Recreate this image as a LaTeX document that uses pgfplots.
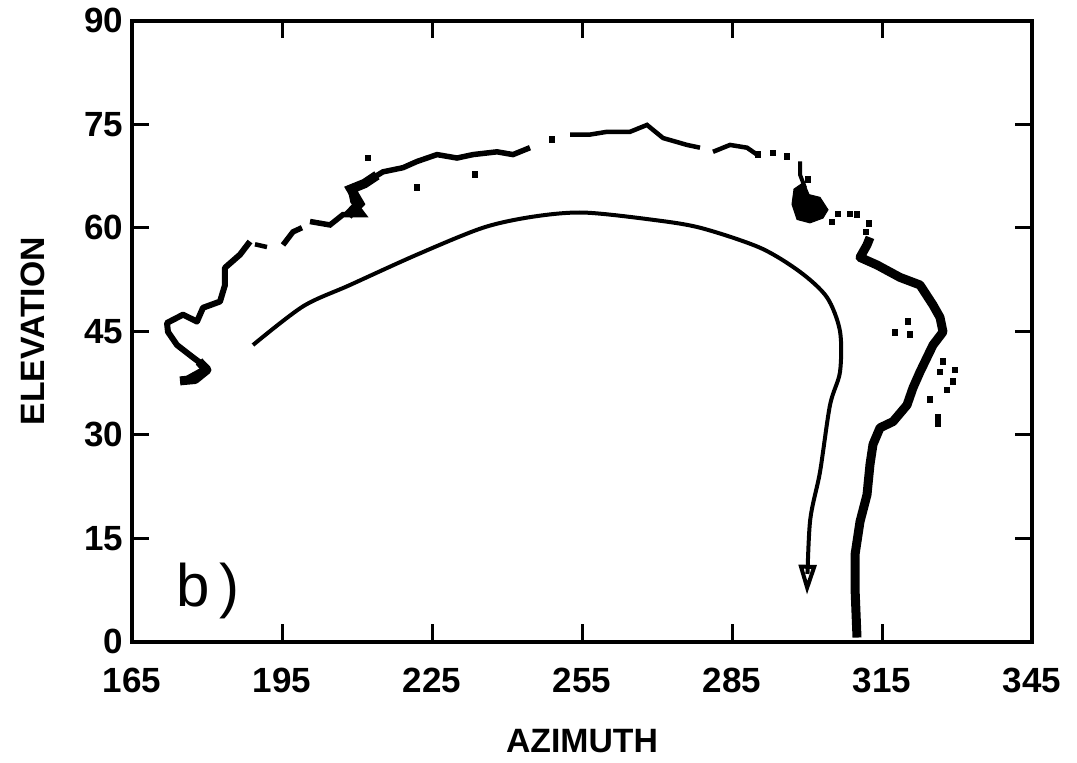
\documentclass[border=0pt]{standalone}
\usepackage{fontspec}
\setmainfont{Liberation Sans}
\usepackage{pgfplots}
\pgfplotsset{compat=1.18}
\usetikzlibrary{arrows.meta}
\begin{document}
\begin{tikzpicture}
\begin{axis}[
  scale only axis, width=360pt, height=248.4pt,
  xmin=165, xmax=345, ymin=0, ymax=90,
  xtick={165,195,...,345}, ytick={0,15,...,90},
  tick align=inside, major tick length=7pt,
  axis line style={line width=1.6pt},
  every tick/.style={line width=1.2pt, black},
  ticklabel style={font=\fontsize{14}{16}\selectfont\bfseries},
  /pgf/number format/assume math mode=true,
  xticklabel style={yshift=-7pt},
  xlabel={AZIMUTH}, ylabel={ELEVATION},
  xlabel style={at={(axis description cs:0.5,-0.16)}, anchor=center, font=\fontsize{13.5}{16}\selectfont\bfseries},
  ylabel style={at={(axis description cs:-0.11,0.5)}, anchor=center, font=\fontsize{13.5}{16}\selectfont\bfseries},
]
% smooth model curve with arrow
\addplot[black, line width=1.6pt, smooth, -{Triangle[open, length=12pt, width=7pt]}] coordinates {
(189.2,43.0) (199.2,48.6) (208.6,51.7) (222,56.1) (235.2,60.0) (245.2,61.6)
(255.2,62.2) (268.6,61.2) (278.6,60.0) (290.6,57.1) (298.6,53.6) (304,49.9)
(306.6,45.0) (306.6,39.1) (304.6,34.3) (302.6,24.6) (300.6,17.4) (300,6.8)
};
% observed trace, left/top part
\addplot[black, line width=2.4pt, line join=round] coordinates {
(175.0,37.7) (180.0,39.7) (177.2,41.2) (174.0,43.0) (172.2,44.9) (172.0,46.2)
(175.2,47.4) (178.0,46.4) (179.2,48.4) (182.6,49.3) (183.6,51.7) (183.6,54.2)
(186.6,56.1) (188.6,58.0)
};
\addplot[black, line width=3.6pt, line join=round] coordinates {
(174.6,37.8) (177.6,38.0) (180.0,39.4) (178.4,40.6)
};
\addplot[black, line width=1.8pt] coordinates {(189.6,57.6) (192.0,57.2)};
\addplot[black, line width=2.2pt] coordinates {
(195.2,57.5) (197.2,59.4) (199.0,60.0)};
\addplot[black, line width=2.2pt] coordinates {
(200.6,60.9) (204.6,60.4) (207.2,61.9) (211.2,61.9) (209.2,63.8) (208.6,65.8)
(212.0,66.7) (215.2,68.1) (219.2,68.7) (222.0,69.6) (226.0,70.6) (230.0,70.1)
(233.2,70.6) (238.0,71.0) (241.2,70.6) (244.6,71.6)
};
\addplot[black, line width=3.8pt] coordinates {(208.2,61.8) (210.5,63.5) (208.8,65.6) (211.5,66.4) (214.0,67.6)};
\addplot[black, line width=1.8pt] coordinates {
(252.6,73.5) (256.6,73.5) (260.0,73.9) (264.6,73.9) (268.0,74.9) (271.2,73.0)
(276.0,72.0) (278.6,71.6)
};
\addplot[black, line width=1.8pt] coordinates {
(281.2,71.0) (284.6,72.0) (288.0,71.6) (290.0,70.6)
};
\addplot[black, line width=1.6pt] coordinates {(298.6,69.6) (298.6,67.7) (299.6,65.8)};
% blob near 300,63
\addplot[black, fill=black] coordinates {
(297.4,65.6) (299.4,66.6) (300.4,64.8) (302.6,64.4) (304.2,62.6) (303.2,61.4)
(300.6,60.7) (298.0,61.2) (297.0,63.4)
} -- cycle;
% thick right part
\addplot[black, line width=3.6pt, line join=round] coordinates {
(312.6,58.6) (312.0,57.5) (310.6,55.7) (314.0,54.6) (318.6,52.8) (322.6,51.7)
(325.2,48.8) (326.6,47.0) (327.2,44.9) (325.2,43.0) (324.0,41.2) (322.6,39.1)
(321.2,36.8) (320.0,34.3) (317.2,31.9) (314.6,31.0) (313.2,28.6) (312.6,25.7)
(312.0,21.3) (310.6,17.4) (309.6,12.6) (309.6,7.8) (310.0,0.6)
};
% scattered dots
\addplot[only marks, mark=square*, mark size=1.1pt, black] coordinates {
(320.2,46.4) (317.6,44.8) (320.6,44.5) (327.2,40.6) (329.6,39.4) (326.6,39.1)
(329.2,37.7) (328.0,36.5) (324.6,35.1) (326.2,32.5) (326.2,31.6)
(296,70.3) (290.2,70.6) (212.2,70.1) (222,65.8) (233.6,67.7)
(306.2,62.0) (308.6,62.0) (310.0,61.9) (312.4,60.6) (311.8,59.4)
(249.0,72.8) (293.2,70.8) (300.2,67.0) (305.0,60.8)
};
\node[font=\fontsize{24}{28}\selectfont] at (axis cs:180.2,7.3) {b\,)};
\end{axis}
\path ([shift={(-52.8pt,-48.4pt)}]current axis.south west) rectangle ([shift={(18pt,6.4pt)}]current axis.north east);
\end{tikzpicture}
\end{document}
